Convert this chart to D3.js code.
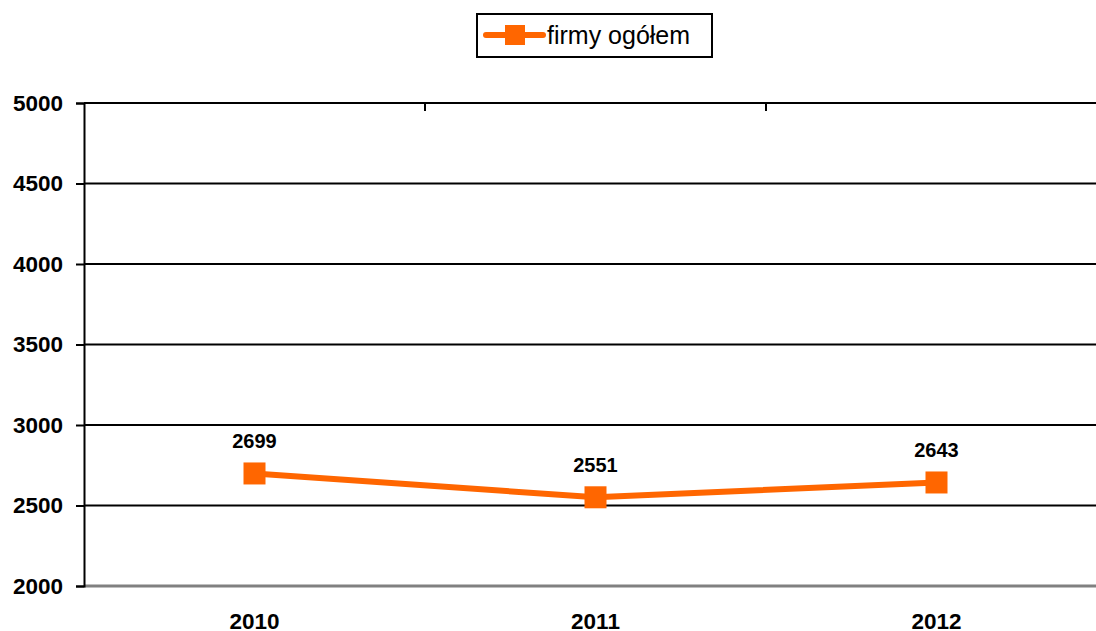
<!DOCTYPE html>
<html>
<head>
<meta charset="utf-8">
<script src="https://cdn.jsdelivr.net/npm/d3@7"></script>
<style>
  body { margin: 0; background: #fff; }
  text { font-family: "Liberation Sans", Arial, sans-serif; }
</style>
</head>
<body>
<div id="chart"></div>
<script>
// data
var years = ["2010", "2011", "2012"];
var firmy = [2699, 2551, 2643];
var yTicks = [2000, 2500, 3000, 3500, 4000, 4500, 5000];
var seriesName = "firmy ogółem";

var width = 1096, height = 631;
var plotLeft = 84, plotTop = 103, plotBottom = 586;
var orange = "#FF6600";

var svg = d3.select("#chart").append("svg")
    .attr("width", width)
    .attr("height", height);

// plot is wider than the window, right part gets cut off
var x = d3.scaleBand().domain(years).range([plotLeft, plotLeft + 1023]);
var y = d3.scaleLinear().domain([2000, 5000]).range([plotBottom, plotTop]);

// gridlines
svg.append("g")
    .selectAll("line")
    .data(yTicks.filter(function(d) { return d > 2000; }))
    .join("line")
    .attr("x1", plotLeft).attr("x2", width)
    .attr("y1", function(d) { return y(d); })
    .attr("y2", function(d) { return y(d); })
    .attr("stroke", "#000")
    .attr("stroke-width", 2);

// bottom axis line (grey)
svg.append("line")
    .attr("x1", plotLeft).attr("x2", width)
    .attr("y1", y(2000)).attr("y2", y(2000))
    .attr("stroke", "#808080")
    .attr("stroke-width", 3);

// category ticks hanging from the top line
svg.append("g")
    .selectAll("line")
    .data(years.slice(1))
    .join("line")
    .attr("x1", function(d) { return x(d); })
    .attr("x2", function(d) { return x(d); })
    .attr("y1", plotTop).attr("y2", plotTop + 8)
    .attr("stroke", "#000")
    .attr("stroke-width", 2);

// y axis
var yAxis = d3.axisLeft(y).tickValues(yTicks).tickSize(8).tickPadding(13)
    .tickFormat(d3.format("d"));
var yAxisG = svg.append("g")
    .attr("transform", "translate(" + plotLeft + ",0)")
    .call(yAxis);
yAxisG.select(".domain").attr("stroke", "#000").attr("stroke-width", 2);
yAxisG.selectAll(".tick line").attr("stroke", "#000").attr("stroke-width", 2);
yAxisG.selectAll(".tick text")
    .attr("font-size", 22.5)
    .attr("font-weight", "bold")
    .attr("fill", "#000")
    .style("font-family", "Liberation Sans, Arial, sans-serif");

// x labels
svg.append("g")
    .selectAll("text")
    .data(years)
    .join("text")
    .attr("x", function(d) { return x(d) + x.bandwidth() / 2; })
    .attr("y", 629)
    .attr("text-anchor", "middle")
    .attr("font-size", 22.5)
    .attr("font-weight", "bold")
    .text(function(d) { return d; });

// series line
var pts = years.map(function(d, i) { return { year: d, v: firmy[i] }; });
var line = d3.line()
    .x(function(d) { return x(d.year) + x.bandwidth() / 2; })
    .y(function(d) { return y(d.v); });

svg.append("path")
    .datum(pts)
    .attr("d", line)
    .attr("fill", "none")
    .attr("stroke", orange)
    .attr("stroke-width", 6);

svg.append("g")
    .selectAll("rect")
    .data(pts)
    .join("rect")
    .attr("x", function(d) { return x(d.year) + x.bandwidth() / 2 - 11; })
    .attr("y", function(d) { return y(d.v) - 11; })
    .attr("width", 22).attr("height", 22)
    .attr("fill", orange);

// data labels
svg.append("g")
    .selectAll("text")
    .data(pts)
    .join("text")
    .attr("x", function(d) { return x(d.year) + x.bandwidth() / 2; })
    .attr("y", function(d) { return y(d.v) - 25; })
    .attr("text-anchor", "middle")
    .attr("font-size", 20)
    .attr("font-weight", "bold")
    .text(function(d) { return d.v; });

// legend
var legend = svg.append("g");
legend.append("rect")
    .attr("x", 477).attr("y", 14)
    .attr("width", 235).attr("height", 43)
    .attr("fill", "#fff")
    .attr("stroke", "#000")
    .attr("stroke-width", 2);
legend.append("line")
    .attr("x1", 486).attr("x2", 543)
    .attr("y1", 35).attr("y2", 35)
    .attr("stroke", orange)
    .attr("stroke-width", 6)
    .attr("stroke-linecap", "round");
legend.append("rect")
    .attr("x", 505).attr("y", 25)
    .attr("width", 20).attr("height", 20)
    .attr("fill", orange);
legend.append("text")
    .attr("x", 547).attr("y", 44)
    .attr("font-size", 25)
    .attr("fill", "#000")
    .text(seriesName);
</script>
</body>
</html>
